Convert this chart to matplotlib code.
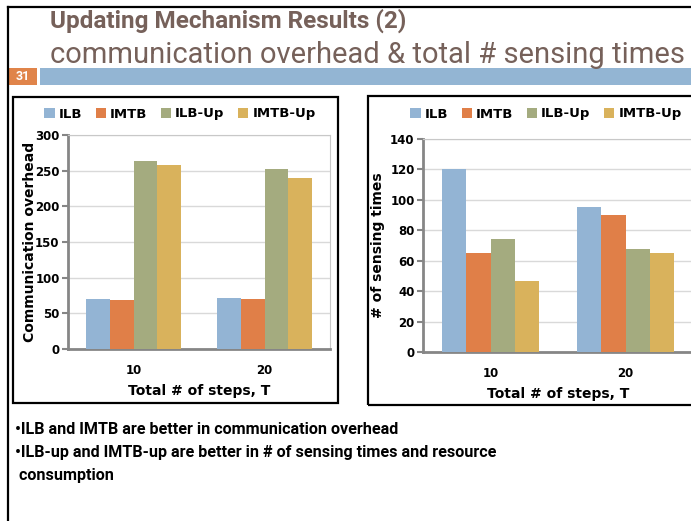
import numpy as np
import matplotlib
matplotlib.use("Agg")
import matplotlib.pyplot as plt
from matplotlib.patches import Rectangle
from matplotlib.lines import Line2D

W, H = 691, 521
steps = ["10", "20"]
series = ["ILB", "IMTB", "ILB-Up", "IMTB-Up"]
colors = ["#93b4d4", "#e07f48", "#a4ab7f", "#d9b25c"]
overhead = [[70, 72], [69, 70], [263, 253], [258, 240]]
sensing = [[120, 95], [65, 90], [74, 67.5], [46.5, 65]]

title = "Updating Mechanism Results (2)"
subtitle = "communication overhead & total # sensing times"
bullets = ["\u2022ILB and IMTB are better in communication overhead",
           "\u2022ILB-up and IMTB-up are better in # of sensing times and resource",
           " consumption"]

brown = "#76615a"
fig = plt.figure(figsize=(W / 100, H / 100), dpi=100)


def fx(px):
    return px / W


def fy(py):
    return 1 - py / H


# slide frame
fig.add_artist(Line2D([fx(8), fx(8)], [fy(7), 0], color="black", lw=1.6))
fig.add_artist(Line2D([fx(8), 1], [fy(7), fy(7)], color="black", lw=1.6))
fig.add_artist(Rectangle((fx(40), fy(85)), fx(W - 40), (85 - 68) / H, color="#93b5d3", lw=0))
fig.add_artist(Rectangle((fx(9), fy(85)), fx(28), (85 - 68) / H, color="#e0844a", lw=0))
fig.text(fx(23), fy(77), "31", color="white", fontsize=9, fontweight="bold",
         ha="center", va="center", family="Roboto")
fig.text(fx(50), fy(28), title, color=brown, fontsize=17.5, fontweight="bold",
         family="Roboto", va="baseline")
fig.text(fx(50), fy(63), subtitle, color=brown, fontsize=21,
         family="Roboto", va="baseline")

# chart boxes
fig.add_artist(Rectangle((fx(13), fy(403)), fx(338 - 13), (403 - 97) / H,
                         fill=False, ec="black", lw=1.6))
fig.add_artist(Rectangle((fx(368), fy(405)), fx(W + 10 - 368), (405 - 96) / H,
                         fill=False, ec="black", lw=1.6))


def draw(rect, data, ymax, ystep, ylabel, ylab_x, leg_x):
    ax = fig.add_axes(rect)
    x = np.arange(len(steps))
    bw = 0.18
    for i, s in enumerate(series):
        ax.bar(x + (i - 1.5) * bw, data[i], bw, color=colors[i], label=s, zorder=3)
    ax.set_xlim(-0.5, len(steps) - 0.5)
    ax.set_ylim(0, ymax)
    ax.set_yticks(np.arange(0, ymax + 1, ystep))
    ax.set_xticks(x)
    ax.set_xticklabels(steps)
    ax.grid(axis="y", color="#d9d9d9", lw=1, zorder=0)
    for side in ["left", "bottom"]:
        ax.spines[side].set_color("#868686")
        ax.spines[side].set_linewidth(2)
    for side in ["top", "right"]:
        ax.spines[side].set_color("#c8c8c8")
        ax.spines[side].set_linewidth(0.8)
    ax.tick_params(axis="x", length=0, pad=11, labelsize=8.5)
    ax.tick_params(axis="y", length=4, color="#868686", width=1.5, pad=2, labelsize=8.5)
    for t in ax.get_xticklabels() + ax.get_yticklabels():
        t.set_fontweight("bold")
    ax.set_xlabel("Total # of steps, T", fontsize=10, fontweight="bold", labelpad=5)
    ax.set_ylabel(ylabel, fontsize=10, fontweight="bold")
    ax.yaxis.set_label_coords(ylab_x, 0.5)
    ax.legend(loc="center", bbox_to_anchor=(leg_x, fy(114)), bbox_transform=fig.transFigure,
              ncol=4, frameon=False, handlelength=0.8, handleheight=0.8, handletextpad=0.3,
              columnspacing=1.0, prop={"weight": "bold", "size": 9.5})
    return ax


draw([fx(68), fy(349), fx(262), (349 - 135) / H], overhead, 300, 50,
     "Communication overhead", -0.12, fx(180))
draw([fx(423), fy(352), fx(270), (352 - 139) / H], sensing, 140, 20,
     "# of sensing times", -0.14, fx(546))

for i, b in enumerate(bullets):
    fig.text(fx(15), fy(434 + i * 23), b, fontsize=11.6, fontweight="bold",
             family="Roboto", va="baseline")

fig.savefig("out.png", dpi=100)
